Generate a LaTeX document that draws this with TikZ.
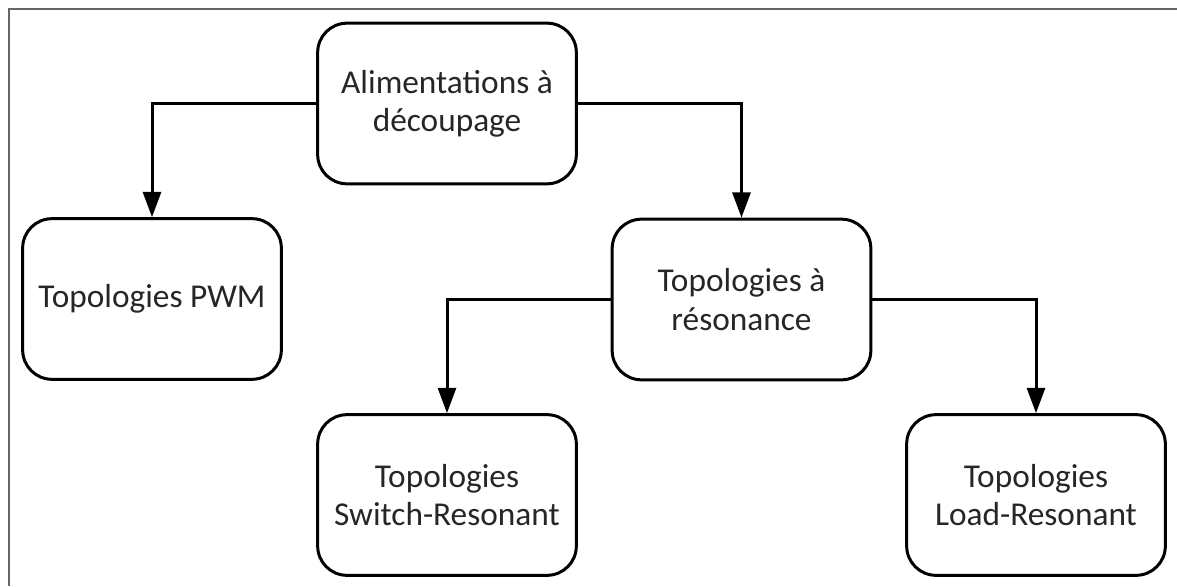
\documentclass[tikz,border=0pt]{standalone}
\usepackage{fontspec}
\setmainfont{Carlito}
\usetikzlibrary{arrows.meta}

\begin{document}
\begin{tikzpicture}[x=0.75pt,y=0.75pt,
  font=\fontsize{25pt}{28.7pt}\selectfont,
  bloc/.style={draw,line width=2.25pt,rounded corners=22pt,minimum width=194pt,minimum height=120.5pt,align=center,text=black!85,inner sep=0pt},
  fleche/.style={line width=2.25pt,-{Triangle[length=19pt,width=13.5pt]}}]
\useasboundingbox (0,0) rectangle (1177,586);
% cadre
\draw[black!60,line width=0.8pt] (9,0) -- (9,577) -- (1177,577);
% blocs
\node[bloc] (alim) at (447,482.5) {Alimentations à\\découpage};
\node[bloc] (pwm) at (152,287) {Topologies PWM};
\node[bloc] (reso) at (741.5,286.5) {Topologies à\\résonance};
\node[bloc] (sw) at (447,91) {Topologies\\Switch-Resonant};
\node[bloc] (load) at (1036,91) {Topologies\\Load-Resonant};
% liaisons
\draw[fleche] (alim.west) -| (pwm.north);
\draw[fleche] (alim.east) -| (reso.north);
\draw[fleche] (reso.west) -| (sw.north);
\draw[fleche] (reso.east) -| (load.north);
\end{tikzpicture}
\end{document}
